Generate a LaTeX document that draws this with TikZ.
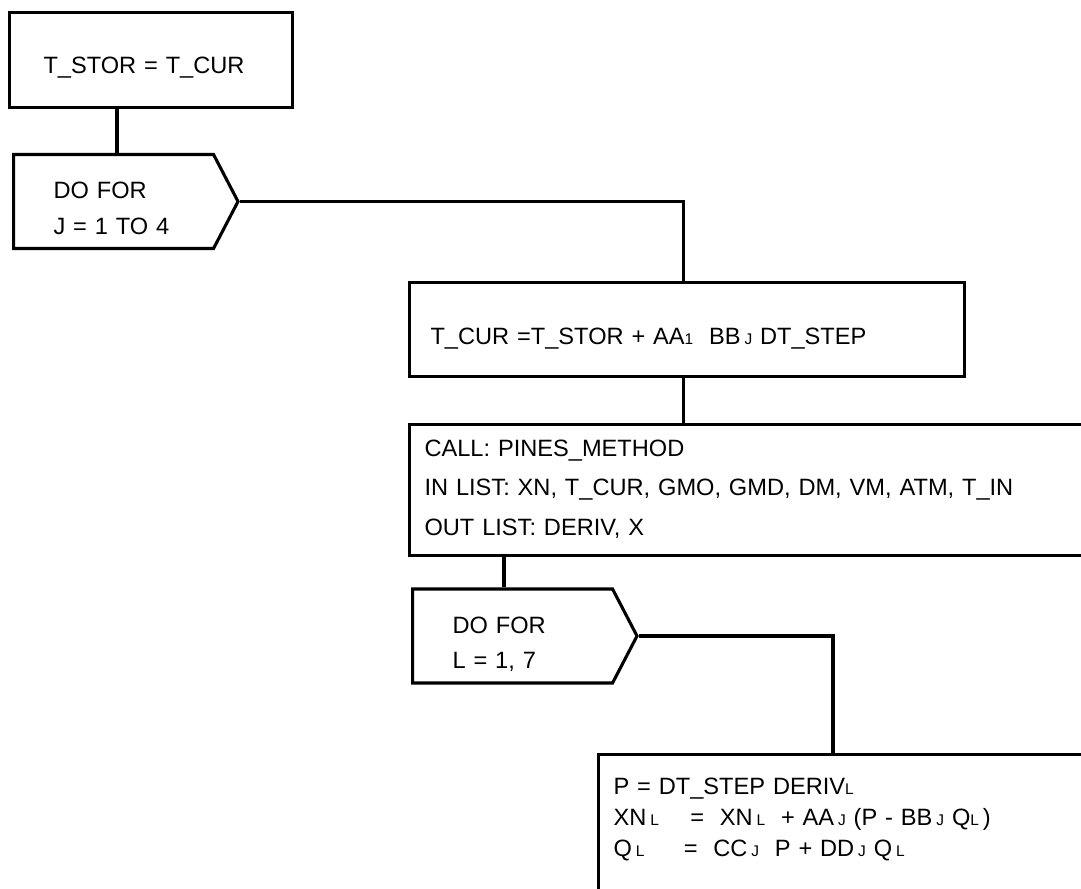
\documentclass[tikz,border=0pt]{standalone}
\usepackage{fontspec}
\setmainfont{Liberation Sans}
\usetikzlibrary{shapes.symbols}

\newcommand{\lsub}[1]{{\fontsize{11}{11}\selectfont #1}}

\begin{document}
\begin{tikzpicture}[
      proc/.style={rectangle, draw, line width=2.2pt, anchor=north west,
      align=left, inner ysep=0pt, font=\fontsize{16.8}{20}\selectfont},
      loop/.style={signal, signal to=east, signal pointer angle=125,
      draw, line width=2.2pt, anchor=west, align=left, inner xsep=1cm,
      inner ysep=0pt, text width=3cm, text height=1.1cm, text depth=1.25cm,
      font=\fontsize{16.8}{25.6}\selectfont},
      link/.style={line width=2.2pt}
    ]
    \path[use as bounding box, clip] (0,0) rectangle (27.025,-22.2);

    % Boxes
    \node[proc, inner xsep=0.85cm, text width=5.375cm, text height=1.5125cm,
    text depth=0.8625cm] (stor) at (0.2,-0.275) {T\_STOR = T\_CUR};
    \node[loop] (loopj) at (0.3,-5.0375) {DO FOR\\J = 1 TO 4};
    \node[proc, inner xsep=0.525cm, text width=12.825cm, text height=1.5375cm,
    text depth=0.8125cm] (tcur) at (10.2,-7.025)
    {T\_CUR =T\_STOR + AA\lsub{1}\ \ BB\,\lsub{J} DT\_STEP};
    \node[proc, inner xsep=0.375cm, text width=17.3cm, text height=0.7875cm,
    text depth=2.4875cm, font=\fontsize{16.8}{28.1}\selectfont] (call)
    at (10.2,-10.575)
    {CALL: PINES\_METHOD\\IN LIST: XN, T\_CUR, GMO, GMD, DM, VM, ATM, T\_IN\\OUT LIST: DERIV, X};
    \node[loop] (loopl) at (10.275,-15.9) {DO FOR\\L = 1, 7};
    \node[proc, inner xsep=0.375cm, text width=12.575cm, text height=0.9875cm,
    text depth=4cm, font=\fontsize{16.8}{22.05}\selectfont] (calc)
    at (14.925,-18.825)
    {P = DT\_STEP DERIV\lsub{L}\\
    XN\,\lsub{L}\ \ \ \ =\ \ XN\,\lsub{L}\ \ + AA\,\lsub{J}\ (P - BB\,\lsub{J}\ Q\lsub{L}\,)\\
    Q\,\lsub{L}\ \ \ \ \ =\ \ CC\,\lsub{J}\ \ P + DD\,\lsub{J}\ Q\,\lsub{L}};

    % Connectors
    \draw[link] ([xshift=2.725cm]stor.south west)
    -- ([xshift=2.725cm]stor.south west |- loopj.north);
    \draw[link] (loopj.east) -| ([xshift=-0.0875cm]tcur.north);
    \draw[link] ([xshift=-0.0875cm]tcur.south)
    -- ([xshift=-0.0875cm]tcur.south |- call.north);
    \draw[link] ([xshift=2.4cm]call.south west)
    -- ([xshift=2.4cm]call.south west |- loopl.north);
    \draw[link] (loopl.east) -| ([xshift=5.9cm]calc.north west);

  \end{tikzpicture}
\end{document}
